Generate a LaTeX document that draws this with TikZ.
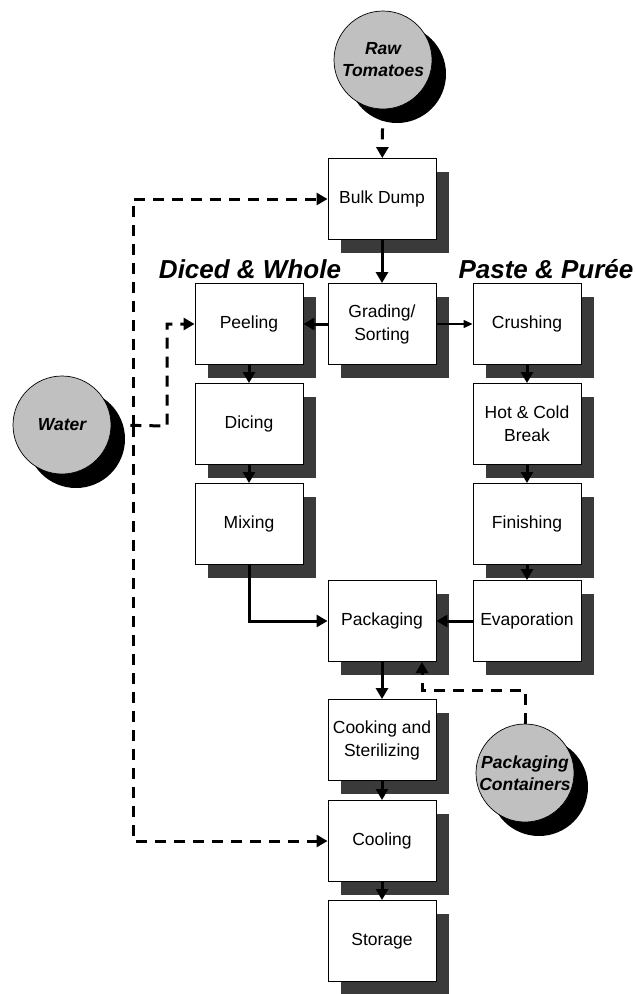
\documentclass[tikz,border=0pt]{standalone}
\usepackage{fontspec}
\setmainfont{Liberation Sans}
\usetikzlibrary{arrows.meta,shadows}
\definecolor{shadowgray}{HTML}{3A3A3A}
\definecolor{circlegray}{HTML}{C0C0C0}
\begin{document}
\begin{tikzpicture}[x=1pt,y=-1pt,
  procbox/.style={draw=black, line width=0.9pt, fill=white, minimum width=108pt, minimum height=81pt,
    inner sep=0pt, align=center, font=\fontsize{17.5}{23}\selectfont,
    general shadow={fill=shadowgray, shadow xshift=13pt, shadow yshift=-13pt}},
  source/.style={circle, draw=black, line width=0.7pt, fill=circlegray, minimum size=98pt, inner sep=0pt,
    align=center, font=\bfseries\itshape\fontsize{17.5}{22}\selectfont,
    general shadow={fill=black, shadow xshift=14pt, shadow yshift=-14pt}},
  heading/.style={font=\bfseries\itshape\fontsize{26}{30}\selectfont, inner sep=0pt},
  flow/.style={line width=3pt, -{Triangle[length=11pt,width=12pt]}},
  thinflow/.style={line width=1.2pt, -{Triangle[length=9pt,width=8pt]}},
  dashflow/.style={line width=3pt, dash pattern=on 11pt off 8pt, -{Triangle[length=11pt,width=12pt]}}
]
\useasboundingbox (0,0) rectangle (636,994);

% sources
\node[source] (raw) at (383,60) {Raw\\Tomatoes};
\node[source] (water) at (62,425) {Water};
\node[source] (pc) at (525,773) {Packaging\\Containers};

% process boxes
\node[procbox] (bulk) at (382,199) {Bulk Dump};
\node[procbox] (grading) at (382,324) {Grading/\\Sorting};
\node[procbox] (peeling) at (249,324) {Peeling};
\node[procbox] (dicing) at (249,424) {Dicing};
\node[procbox] (mixing) at (249,524) {Mixing};
\node[procbox] (crushing) at (527,324) {Crushing};
\node[procbox] (hotcold) at (527,424) {Hot \& Cold\\Break};
\node[procbox] (finishing) at (527,524) {Finishing};
\node[procbox] (evap) at (527,621) {Evaporation};
\node[procbox] (pack) at (382,621) {Packaging};
\node[procbox] (cooking) at (382,740) {Cooking and\\Sterilizing};
\node[procbox] (cooling) at (382,841) {Cooling};
\node[procbox] (storage) at (382,941) {Storage};

% headings
\node[heading] (hdw) at (250,269) {Diced \& Whole};
\node[heading] (hpp) at (546,269) {Paste \& Purée};

% solid flows
\draw[flow] (bulk) -- (grading);
\draw[flow] (grading) -- (peeling);
\draw[thinflow] (grading) -- (crushing);
\draw[flow] (peeling) -- (dicing);
\draw[flow] (dicing) -- (mixing);
\draw[flow] (crushing) -- (hotcold);
\draw[flow] (hotcold) -- (finishing);
\draw[flow] (finishing) -- (evap);
\draw[flow] (evap) -- (pack);
\draw[flow] (mixing.south) |- (pack.west);
\draw[flow] (pack) -- (cooking);
\draw[flow] (cooking) -- (cooling);
\draw[flow] (cooling) -- (storage);

% dashed flows
\draw[dashflow] (raw) -- (bulk);
\coordinate (wj) at (133,426);
\coordinate (wb) at (167,426);
\draw[dashflow] (wj) |- (bulk.west);
\draw[dashflow] (wj) |- (cooling.west);
\draw[dashflow] (water.east) -- (wb) |- (peeling.west);
\coordinate (pcturn) at (422,690);
\coordinate (pcin) at (422,662);
\draw[dashflow] (pc.north) |- (pcturn) -- (pcin);
\end{tikzpicture}
\end{document}
